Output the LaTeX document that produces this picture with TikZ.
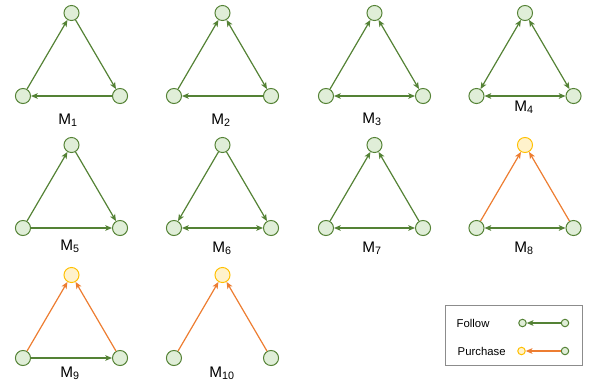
\documentclass[tikz,border=0pt]{standalone}
\usepackage{fontspec}
\setmainfont{Liberation Sans}
\usetikzlibrary{arrows.meta, positioning}
\definecolor{followgreen}{RGB}{84,130,53}
\definecolor{userfill}{RGB}{224,238,216}
\definecolor{itemyellow}{RGB}{255,192,0}
\definecolor{itemfill}{RGB}{255,242,204}
\definecolor{buyorange}{RGB}{237,125,49}
\tikzset{
>={Stealth[length=5pt,width=4.2pt,inset=1.2pt]}, % draw.io like arrow heads
node distance=62.25pt and 36.4pt, % from the top node down to the two lower ones
user/.style={circle, draw=followgreen, fill=userfill, line width=0.75pt, minimum size=11.3pt, inner sep=0pt}, % a user node
item/.style={user, draw=itemyellow, fill=itemfill}, % the item node
follow/.style={draw=followgreen, line width=0.9pt},
purchase/.style={draw=buyorange, line width=0.9pt},
motif/.style={anchor=base, font=\fontsize{11.5}{13}\selectfont}, % the M_i labels
}
\tikzset{
  small/.style={user, minimum size=5.6pt}
}

\begin{document}
\begin{tikzpicture}[x=0.75pt, y=-0.75pt, on grid]
      \useasboundingbox (0,0) rectangle (590,383);

      % first row
      \node[user] (t1) at (71.5,13) {};
      \node[user, below left=of t1] (l1) {};
      \node[user, below right=of t1] (r1) {};
      \node[user] (t2) at (222.5,13) {};
      \node[user, below left=of t2] (l2) {};
      \node[user, below right=of t2] (r2) {};
      \node[user] (t3) at (374.5,13) {};
      \node[user, below left=of t3] (l3) {};
      \node[user, below right=of t3] (r3) {};
      \node[user] (t4) at (525,13) {};
      \node[user, below left=of t4] (l4) {};
      \node[user, below right=of t4] (r4) {};

      % second row
      \node[user] (t5) at (71.5,145) {};
      \node[user, below left=of t5] (l5) {};
      \node[user, below right=of t5] (r5) {};
      \node[user] (t6) at (222.5,145) {};
      \node[user, below left=of t6] (l6) {};
      \node[user, below right=of t6] (r6) {};
      \node[user] (t7) at (374.5,145) {};
      \node[user, below left=of t7] (l7) {};
      \node[user, below right=of t7] (r7) {};
      \node[item] (t8) at (525,145) {};
      \node[user, below left=of t8] (l8) {};
      \node[user, below right=of t8] (r8) {};

      % third row
      \node[item] (t9) at (71.5,275) {};
      \node[user, below left=of t9] (l9) {};
      \node[user, below right=of t9] (r9) {};
      \node[item] (t10) at (222.5,275) {};
      \node[user, below left=of t10] (l10) {};
      \node[user, below right=of t10] (r10) {};

      \node[motif] (m1) at (68,124) {M\textsubscript{1}};
      \node[motif] (m2) at (221,124) {M\textsubscript{2}};
      \node[motif] (m3) at (372,123) {M\textsubscript{3}};
      \node[motif] (m4) at (524,111) {M\textsubscript{4}};
      \node[motif] (m5) at (70,250) {M\textsubscript{5}};
      \node[motif] (m6) at (222,252) {M\textsubscript{6}};
      \node[motif] (m7) at (372,252) {M\textsubscript{7}};
      \node[motif] (m8) at (524,252) {M\textsubscript{8}};
      \node[motif] (m9) at (70,377) {M\textsubscript{9}};
      \node[motif] (m10) at (222,377) {M\textsubscript{10}};

      \draw[follow] (l1) edge[->] (t1)
      (t1) edge[->] (r1)
      (r1) edge[->] (l1)
      (l2) edge[->] (t2)
      (t2) edge[<->] (r2)
      (r2) edge[->] (l2)
      (l3) edge[->] (t3)
      (t3) edge[<->] (r3)
      (l3) edge[<->] (r3)
      (t4) edge[<->] (l4)
      (t4) edge[<->] (r4)
      (l4) edge[<->] (r4)
      (l5) edge[->] (t5)
      (t5) edge[->] (r5)
      (l5) edge[->] (r5)
      (t6) edge[->] (l6)
      (t6) edge[->] (r6)
      (l6) edge[<->] (r6)
      (l7) edge[->] (t7)
      (r7) edge[->] (t7)
      (l7) edge[<->] (r7)
      (l8) edge[<->] (r8)
      (l9) edge[->] (r9);

      \draw[purchase] (l8) edge[->] (t8)
      (r8) edge[->] (t8)
      (l9) edge[->] (t9)
      (r9) edge[->] (t9)
      (l10) edge[->] (t10)
      (r10) edge[->] (t10);

      % legend
      \node[draw=black!45, line width=0.75pt, minimum width=102.75pt, minimum height=45pt] (legend) at (513.5,335) {};
      \node[anchor=west, font=\fontsize{8.5}{10}\selectfont] (ftext) at (452,323) {Follow};
      \node[anchor=west, font=\fontsize{8.5}{10}\selectfont] (ptext) at (453,351) {Purchase};
      \node[small] (fa) at (522.5,323) {};
      \node[small] (fb) at (565,323) {};
      \node[small, draw=itemyellow, fill=itemfill] (pa) at (521.5,351) {};
      \node[small] (pb) at (565,351) {};
      \draw[follow] (fb) edge[->] (fa);
      \draw[purchase] (pb) edge[->] (pa);
    \end{tikzpicture}
\end{document}
